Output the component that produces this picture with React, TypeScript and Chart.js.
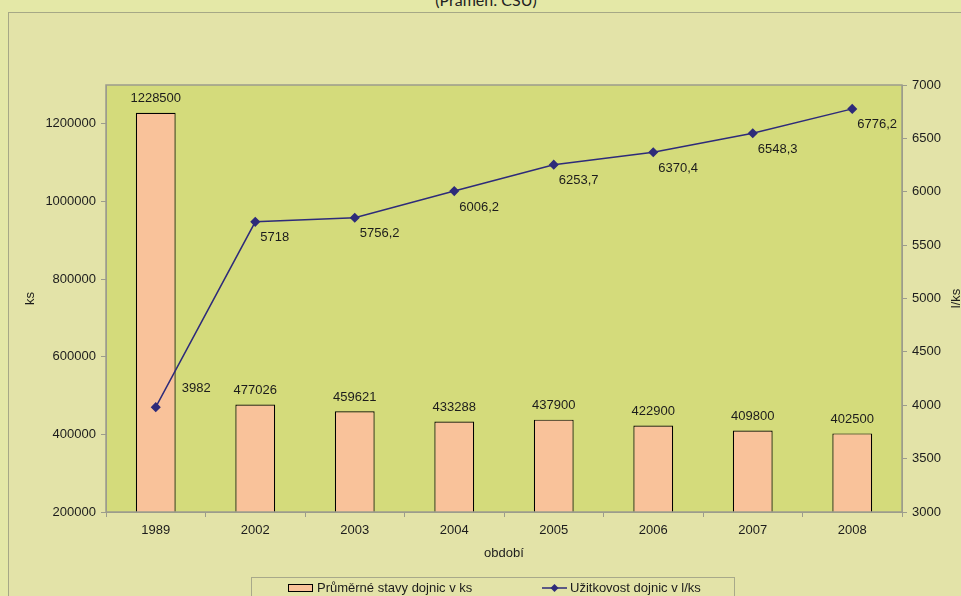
import React, { useEffect, useRef } from 'react';
import { Chart, registerables } from 'chart.js';

Chart.register(...registerables);

const categories = ['1989', '2002', '2003', '2004', '2005', '2006', '2007', '2008'];
const herdValues = [1228500, 477026, 459621, 433288, 437900, 422900, 409800, 402500];
const yieldValues = [3982, 5718, 5756.2, 6006.2, 6253.7, 6370.4, 6548.3, 6776.2];
const herdLabel = 'Průměrné stavy dojnic v ks';
const yieldLabel = 'Užitkovost dojnic v l/ks';
const leftTicks = [200000, 400000, 600000, 800000, 1000000, 1200000];
const rightTicks = [3000, 3500, 4000, 4500, 5000, 5500, 6000, 6500, 7000];
const sourceText = '(Pramen: ČSÚ)';
const xTitle = 'období';
const leftTitle = 'ks';
const rightTitle = 'l/ks';

const FONT = '"Liberation Sans", Arial, sans-serif';
const TEXT = '#1c1c1c';
const BAR_FILL = '#F9C29A';
const LINE_COLOR = '#2E2B7A';
const PLOT_BG = '#D4DB7B';
const AXIS_GRAY = '#9C9C8C';

const fmt = (v: number) => String(v).replace('.', ',');

const plotPlugin = {
  id: 'plotDecor',
  beforeDraw(chart: any) {
    const { ctx, chartArea: a } = chart;
    ctx.save();
    ctx.fillStyle = PLOT_BG;
    ctx.fillRect(a.left, a.top, a.right - a.left, a.bottom - a.top);
    ctx.restore();
  },
  afterDraw(chart: any) {
    const { ctx, chartArea: a } = chart;
    ctx.save();
    ctx.strokeStyle = AXIS_GRAY;
    ctx.lineWidth = 1.5;
    ctx.strokeRect(a.left, a.top, a.right - a.left, a.bottom - a.top);

    ctx.font = `13px ${FONT}`;
    ctx.fillStyle = TEXT;
    const barMeta = chart.getDatasetMeta(1);
    barMeta.data.forEach((el: any, i: number) => {
      ctx.textAlign = 'center';
      ctx.textBaseline = 'middle';
      ctx.fillText(fmt(herdValues[i]), el.x, el.y - 14);
    });
    const lineMeta = chart.getDatasetMeta(0);
    lineMeta.data.forEach((el: any, i: number) => {
      ctx.textAlign = 'left';
      ctx.textBaseline = 'middle';
      if (i === 0) ctx.fillText(fmt(yieldValues[i]), el.x + 26, el.y - 19);
      else ctx.fillText(fmt(yieldValues[i]), el.x + 5, el.y + 16);
    });

    const midY = (a.top + a.bottom) / 2;
    ctx.textAlign = 'center';
    ctx.textBaseline = 'middle';
    ctx.save();
    ctx.translate(30, midY);
    ctx.rotate(-Math.PI / 2);
    ctx.fillText(leftTitle, 0, 0);
    ctx.restore();
    ctx.save();
    ctx.translate(956, midY);
    ctx.rotate(-Math.PI / 2);
    ctx.fillText(rightTitle, 0, 0);
    ctx.restore();

    const lx = 251, ly = 577;
    ctx.strokeStyle = '#A8A98A';
    ctx.lineWidth = 1;
    ctx.strokeRect(lx + 0.5, ly + 0.5, 483, 40);
    const cy = 588;
    ctx.fillStyle = BAR_FILL;
    ctx.fillRect(288, cy - 4, 25, 8);
    ctx.strokeStyle = '#000';
    ctx.strokeRect(288.5, cy - 3.5, 24, 7);
    ctx.fillStyle = TEXT;
    ctx.textAlign = 'left';
    ctx.fillText(herdLabel, 317, cy);
    ctx.strokeStyle = LINE_COLOR;
    ctx.lineWidth = 1.5;
    ctx.beginPath();
    ctx.moveTo(542, cy);
    ctx.lineTo(567, cy);
    ctx.stroke();
    ctx.fillStyle = LINE_COLOR;
    ctx.beginPath();
    ctx.moveTo(554.5, cy - 4);
    ctx.lineTo(558.5, cy);
    ctx.lineTo(554.5, cy + 4);
    ctx.lineTo(550.5, cy);
    ctx.closePath();
    ctx.fill();
    ctx.fillStyle = TEXT;
    ctx.fillText(yieldLabel, 570, cy);
    ctx.restore();
  },
};

export default function App() {
  const ref = useRef<HTMLCanvasElement | null>(null);

  useEffect(() => {
    if (!ref.current) return;
    const chart = new Chart(ref.current, {
      type: 'bar',
      data: {
        labels: categories,
        datasets: [
          {
            type: 'line',
            label: yieldLabel,
            data: yieldValues,
            yAxisID: 'y1',
            borderColor: LINE_COLOR,
            backgroundColor: LINE_COLOR,
            borderWidth: 1.5,
            pointStyle: 'rectRot',
            pointRadius: 4,
            pointBackgroundColor: LINE_COLOR,
            pointBorderColor: LINE_COLOR,
            tension: 0,
            order: 0,
          } as any,
          {
            type: 'bar',
            label: herdLabel,
            data: herdValues,
            yAxisID: 'y',
            backgroundColor: BAR_FILL,
            borderColor: '#000',
            borderWidth: 1.2,
            barPercentage: 0.4,
            categoryPercentage: 1,
            order: 1,
          } as any,
        ],
      },
      options: {
        animation: false,
        responsive: false,
        maintainAspectRatio: false,
        layout: { padding: { top: 85, left: 0, right: 0, bottom: 0 } },
        plugins: {
          legend: { display: false },
          title: { display: false },
          tooltip: { enabled: false },
        },
        scales: {
          x: {
            offset: true,
            grid: {
              offset: true,
              drawOnChartArea: false,
              drawTicks: true,
              tickLength: 5,
              color: AXIS_GRAY,
            },
            border: { display: true, color: AXIS_GRAY },
            ticks: { font: { family: FONT, size: 13 }, color: TEXT, padding: 6, maxRotation: 0 },
            title: {
              display: true,
              text: xTitle,
              font: { family: FONT, size: 13 },
              color: TEXT,
              padding: { top: 0, bottom: 35 },
            },
            afterFit: (s: any) => {
              s.height = 84;
            },
          },
          y: {
            position: 'left',
            min: 200000,
            max: 1300000,
            grid: { drawOnChartArea: false, drawTicks: true, tickLength: 5, color: AXIS_GRAY },
            border: { display: true, color: AXIS_GRAY },
            ticks: {
              font: { family: FONT, size: 13 },
              color: TEXT,
              padding: 5,
              callback: (v: any) => String(v),
            },
            afterBuildTicks: (s: any) => {
              s.ticks = leftTicks.map((v) => ({ value: v }));
            },
            afterFit: (s: any) => {
              s.width = 106;
            },
          },
          y1: {
            position: 'right',
            min: 3000,
            max: 7000,
            grid: { drawOnChartArea: false, drawTicks: true, tickLength: 5, color: AXIS_GRAY },
            border: { display: true, color: AXIS_GRAY },
            ticks: {
              font: { family: FONT, size: 13 },
              color: TEXT,
              padding: 5,
              callback: (v: any) => String(v),
            },
            afterBuildTicks: (s: any) => {
              s.ticks = rightTicks.map((v) => ({ value: v }));
            },
            afterFit: (s: any) => {
              s.width = 59;
            },
          },
        },
      } as any,
      plugins: [plotPlugin],
    });
    return () => chart.destroy();
  }, []);

  return (
    <div
      style={{
        position: 'fixed',
        left: 0,
        top: 0,
        width: 961,
        height: 596,
        overflow: 'hidden',
        background: '#E4E8A7',
      }}
    >
      <div
        style={{
          position: 'absolute',
          left: 8,
          top: 12,
          width: 1100,
          height: 800,
          borderLeft: '1px solid #A6A886',
          borderTop: '1px solid #A6A886',
          background: '#E3E3A8',
        }}
      />
      <div
        style={{
          position: 'absolute',
          left: 0,
          width: 972,
          top: -8,
          textAlign: 'center',
          fontFamily: 'Lato, "Open Sans", sans-serif',
          fontSize: 16,
          lineHeight: '16px',
          color: '#222',
          whiteSpace: 'nowrap',
        }}
      >
        {sourceText}
      </div>
      <canvas
        ref={ref}
        width={961}
        height={596}
        style={{ position: 'absolute', left: 0, top: 0, width: 961, height: 596 }}
      />
    </div>
  );
}
